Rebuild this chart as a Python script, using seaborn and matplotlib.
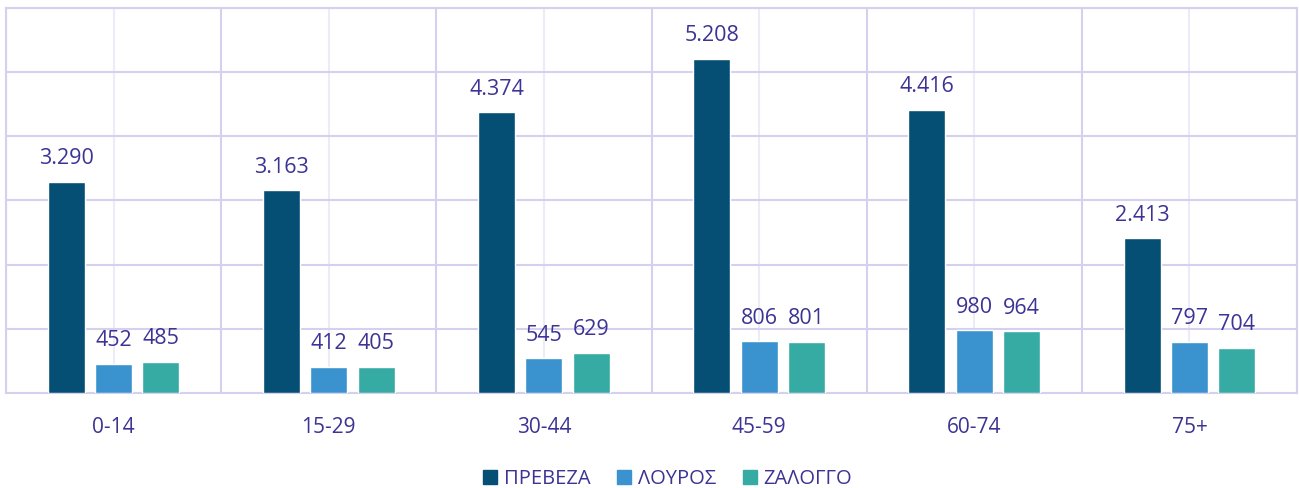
import pandas as pd
import matplotlib.pyplot as plt
import seaborn as sns

# Population by age group and area
age_groups = ['0-14', '15-29', '30-44', '45-59', '60-74', '75+']
areas = ['ΠΡΕΒΕΖΑ', 'ΛΟΥΡΟΣ', 'ΖΑΛΟΓΓΟ']
preveza = [3290, 3163, 4374, 5208, 4416, 2413]
louros = [452, 412, 545, 806, 980, 797]
zalongo = [485, 405, 629, 801, 964, 704]

colors = ['#044F73', '#3A93CF', '#35ABA3']
text_color = '#3B3494'
grid_color = '#D5D0EE'

df = pd.DataFrame({
    'age': age_groups * 3,
    'area': [a for a in areas for _ in age_groups],
    'value': preveza + louros + zalongo,
})

sns.set_style("white")
plt.rcParams['font.family'] = ['Open Sans', 'DejaVu Sans']

fig = plt.figure(figsize=(12.99, 4.88), dpi=100)
ax = fig.add_axes([0.0046, 0.1947, 0.9939, 0.789])

sns.barplot(data=df, x='age', y='value', hue='area', palette=colors, saturation=1,
            width=0.66, gap=0.22, ax=ax, legend=False, zorder=3)

# value labels with greek thousands separator
for cont in ax.containers:
    ax.bar_label(cont, labels=[f"{int(b.get_height()):,}".replace(',', '.') for b in cont],
                 padding=9, fontsize=15.5, color=text_color)

ax.set_ylim(0, 6000)
ax.set_yticks(range(0, 6001, 1000))
ax.set_yticklabels([])
ax.set_xlim(-0.5, 5.5)
ax.grid(axis='y', color=grid_color, linewidth=1.5, zorder=0)
ax.grid(axis='x', color='#EDEBF8', linewidth=1.5, zorder=0)
for b in range(7):
    ax.axvline(b - 0.5, color=grid_color, linewidth=1.5, zorder=1)
for s in ax.spines.values():
    s.set_color(grid_color)
    s.set_linewidth(1.5)

ax.tick_params(axis='both', length=0)
ax.tick_params(axis='x', pad=17, labelsize=15, labelcolor=text_color)
ax.set_xlabel('')
ax.set_ylabel('')

handles = [plt.Rectangle((0, 0), 1, 1, color=c) for c in colors]
fig.legend(handles, areas, loc='center', bbox_to_anchor=(0.514, 0.018), ncol=3,
           frameon=False, handlelength=0.7, handleheight=0.7, handletextpad=0.35,
           columnspacing=1.3, fontsize=14.5, labelcolor=text_color)

plt.savefig('out.png', dpi=100)
